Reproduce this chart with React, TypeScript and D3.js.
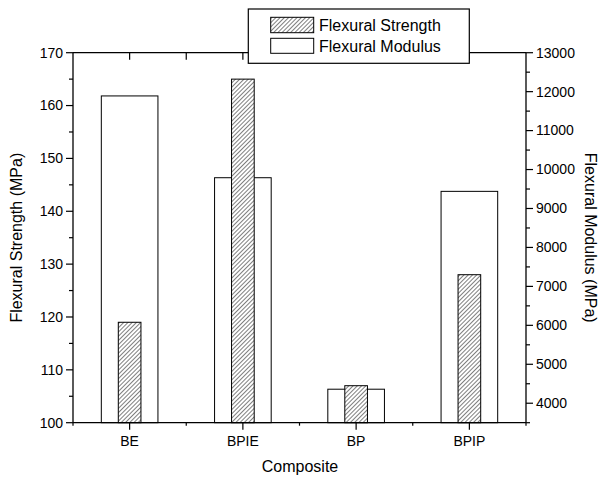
import React from 'react';
import * as d3 from 'd3';

const composites = ['BE', 'BPIE', 'BP', 'BPIP'];
const strength = [119, 165, 107, 128];
const modulus = [11890, 9790, 4360, 9440];
const strengthTicks = [100, 110, 120, 130, 140, 150, 160, 170];
const modulusTicks = [4000, 5000, 6000, 7000, 8000, 9000, 10000, 11000, 12000, 13000];

const W = 600;
const H = 477;
const margin = { top: 52.7, right: 74, bottom: 54.3, left: 73 };
const font = 'Arial, "Liberation Sans", Helvetica, sans-serif';

export default function App() {
  const innerRight = W - margin.right;
  const innerBottom = H - margin.bottom;

  const x = d3.scaleLinear().domain([0.5, 4.5]).range([margin.left, innerRight]);
  const yL = d3.scaleLinear().domain([100, 170]).range([innerBottom, margin.top]);
  const yR = d3.scaleLinear().domain([3500, 13000]).range([innerBottom, margin.top]);
  const step = x(2) - x(1);
  const modW = step * 0.5;
  const strW = step * 0.2;

  const minorL = d3.range(100, 170.01, 5);
  const minorR = d3.range(3500, 13000.01, 500);
  const xMinor = d3.range(0.5, 4.51, 0.5);

  return (
    <svg width={W} height={H} style={{ position: 'absolute', left: 0, top: 0, background: '#fff' }}>
      <defs>
        <pattern id="hatch" patternUnits="userSpaceOnUse" width={3} height={3} patternTransform="rotate(45)">
          <rect width={3} height={3} fill="#fff" />
          <line x1={0} y1={0} x2={0} y2={3} stroke="#000" strokeWidth={1} />
        </pattern>
      </defs>
      <rect width={W} height={H} fill="#fff" />

      {/* modulus bars (right axis) */}
      {composites.map((c, i) => (
        <rect key={'m' + c} x={x(i + 1) - modW / 2} y={yR(modulus[i])} width={modW}
          height={innerBottom - yR(modulus[i])} fill="#fff" stroke="#000" strokeWidth={1} />
      ))}
      {/* strength bars (left axis) */}
      {composites.map((c, i) => (
        <rect key={'s' + c} x={x(i + 1) - strW / 2} y={yL(strength[i])} width={strW}
          height={innerBottom - yL(strength[i])} fill="url(#hatch)" stroke="#000" strokeWidth={1} />
      ))}

      {/* frame */}
      <g stroke="#000" strokeWidth={1.3} fill="none">
        <line x1={margin.left} x2={margin.left} y1={margin.top} y2={innerBottom} />
        <line x1={innerRight} x2={innerRight} y1={margin.top} y2={innerBottom} />
        <line x1={margin.left} x2={innerRight} y1={innerBottom} y2={innerBottom} />
        <line x1={margin.left} x2={innerRight} y1={margin.top} y2={margin.top} />
      </g>

      {/* ticks */}
      <g stroke="#000" strokeWidth={1.2}>
        {minorL.map(v => (
          <line key={'lt' + v} x1={margin.left} x2={margin.left - (v % 10 === 0 ? 7 : 4)} y1={yL(v)} y2={yL(v)} />
        ))}
        {minorR.map(v => (
          <line key={'rt' + v} x1={innerRight} x2={innerRight + (v % 1000 === 0 ? 7 : 4)} y1={yR(v)} y2={yR(v)} />
        ))}
        {xMinor.map(v => (
          <line key={'bt' + v} x1={x(v)} x2={x(v)} y1={innerBottom} y2={innerBottom + (Number.isInteger(v) ? 7 : 3)} />
        ))}
        {xMinor.slice(1, -1).map(v => (
          <line key={'tt' + v} x1={x(v)} x2={x(v)} y1={margin.top} y2={margin.top + 7} />
        ))}
      </g>

      <g fontFamily={font} fontSize={14} fill="#000">
        {strengthTicks.map(v => (
          <text key={'ll' + v} x={margin.left - 10} y={yL(v)} dy="0.35em" textAnchor="end">{v}</text>
        ))}
        {modulusTicks.map(v => (
          <text key={'rl' + v} x={innerRight + 10} y={yR(v)} dy="0.35em" textAnchor="start">{v}</text>
        ))}
        {composites.map((c, i) => (
          <text key={'xl' + c} x={x(i + 1)} y={innerBottom + 23} textAnchor="middle">{c}</text>
        ))}
      </g>

      <g fontFamily={font} fontSize={16} fill="#000">
        <text x={W / 2} y={472} textAnchor="middle">Composite</text>
        <text transform={`translate(22,${(margin.top + innerBottom) / 2}) rotate(-90)`} textAnchor="middle">Flexural Strength (MPa)</text>
        <text transform={`translate(585,${(margin.top + innerBottom) / 2}) rotate(90)`} textAnchor="middle">Flexural Modulus (MPa)</text>
      </g>

      {/* legend */}
      <g fontFamily={font} fontSize={16}>
        <rect x={248.3} y={9} width={221} height={54.3} fill="#fff" stroke="#000" strokeWidth={1.2} />
        <rect x={270.7} y={17.3} width={43} height={15.4} fill="url(#hatch)" stroke="#000" strokeWidth={1} />
        <rect x={270.7} y={38.3} width={43} height={15} fill="#fff" stroke="#000" strokeWidth={1} />
        <text x={319} y={25} dy="0.35em">Flexural Strength</text>
        <text x={319} y={46} dy="0.35em">Flexural Modulus</text>
      </g>
    </svg>
  );
}
